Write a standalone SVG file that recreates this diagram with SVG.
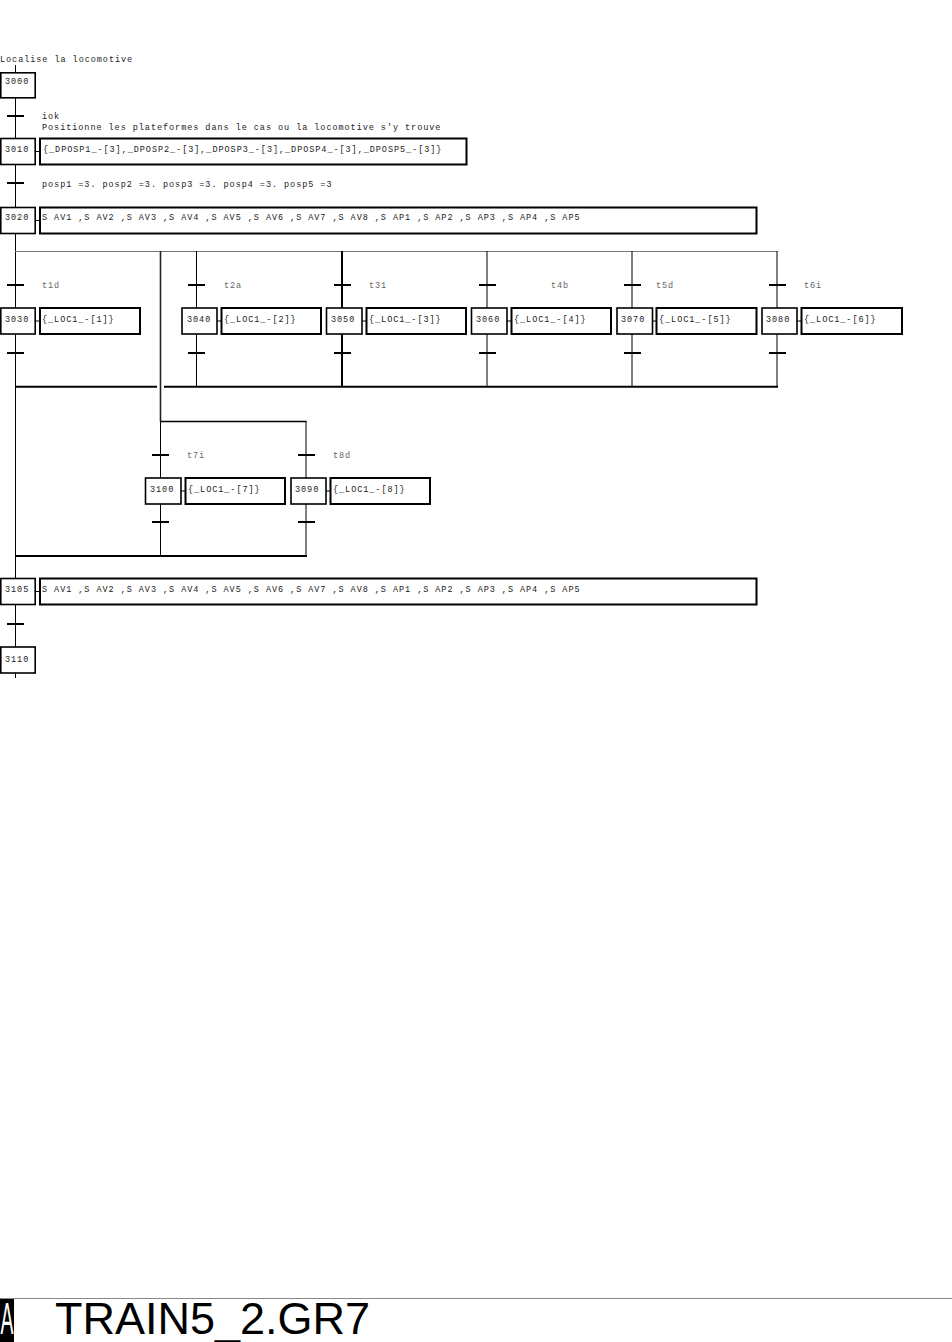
<svg xmlns="http://www.w3.org/2000/svg" width="952" height="1342" viewBox="0 0 952 1342">
<style>
.t{font-family:"Liberation Mono",monospace;font-size:8.5px;letter-spacing:0.95px;fill:#222}
.lbl{font-family:"Liberation Mono",monospace;font-size:8.5px;letter-spacing:0.95px;fill:#666}
.st{fill:#fff;stroke:#000;stroke-width:1.6}
.ac{fill:#fff;stroke:#000;stroke-width:2}
.ln{stroke:#000;stroke-width:1;fill:none}
.lnb{stroke:#000;stroke-width:2;fill:none}
.tr{stroke:#000;stroke-width:2}
</style>
<rect width="952" height="1342" fill="#fff"/>
<g id="connectors">
<path class="ln" d="M15.5 65V73M15.5 98V138M15.5 164V207M15.5 233V308M15.5 334V578M15.5 605V647M15.5 673V678"/>
<path d="M15 251.5H777.5" stroke="#777" stroke-width="1" fill="none"/>
<path d="M160.5 251V421.5" stroke="#222" stroke-width="1.6" fill="none"/>
<path class="ln" d="M196.5 251V308M196.5 334V387M487 251V308M487 334V387M632 251V308M632 334V387M777 251V308M777 334V387"/>
<path class="lnb" d="M342 251V308M342 334V387"/>
<path class="lnb" d="M15 386.7H157M164 386.7H778"/>
<path d="M160 421.5H306.5" stroke="#000" stroke-width="1.6" fill="none"/>
<path class="ln" d="M160.5 421V478M160.5 504V556M306 421V478M306 504V556"/>
<path class="lnb" d="M15 556H307"/>
<path class="tr" d="M7 116H24M7 183H24M7 285H24M188 285H205M334 285H351M479 285H496M624 285H641M769 285H786M7 353H24M188 353H205M334 353H351M479 353H496M624 353H641M769 353H786M152 455H169M298 455H315M152 522H169M298 522H315M7 624H24"/>
<path class="ln" d="M35 151.5H40M35 220.5H40M35 321H40M217 321H221M362 321H366M507 321H511M652 321H656M797 321H801M181 491H185M326 491H330M35 591.5H40"/>
</g>
<text class="t" x="0" y="62">Localise la locomotive</text>
<text class="t" x="42" y="119">iok</text>
<text class="t" x="42" y="130">Positionne les plateformes dans le cas ou la locomotive s'y trouve</text>
<text class="t" x="42" y="187">posp1 =3. posp2 =3. posp3 =3. posp4 =3. posp5 =3</text>
<text class="lbl" x="42" y="288">t1d</text>
<text class="lbl" x="224" y="288">t2a</text>
<text class="lbl" x="369" y="288">t31</text>
<text class="lbl" x="551" y="288">t4b</text>
<text class="lbl" x="656" y="288">t5d</text>
<text class="lbl" x="804" y="288">t6i</text>
<text class="lbl" x="187" y="458">t7i</text>
<text class="lbl" x="333" y="458">t8d</text>
<g id="s3000"><rect class="st" x="0.8" y="72.8" width="34.4" height="25"/><text class="t" x="5" y="84">3000</text></g>
<g id="s3010"><rect class="st" x="0.8" y="138.5" width="34.4" height="26"/><text class="t" x="5" y="152">3010</text>
<rect class="ac" x="40" y="138.5" width="426.5" height="26"/><text class="t" x="43" y="152">{_DPOSP1_-[3],_DPOSP2_-[3],_DPOSP3_-[3],_DPOSP4_-[3],_DPOSP5_-[3]}</text></g>
<g id="s3020"><rect class="st" x="0.8" y="207.5" width="34.4" height="26"/><text class="t" x="5" y="220">3020</text>
<rect class="ac" x="40" y="207.5" width="716.5" height="26"/><text class="t" x="42" y="220">S AV1 ,S AV2 ,S AV3 ,S AV4 ,S AV5 ,S AV6 ,S AV7 ,S AV8 ,S AP1 ,S AP2 ,S AP3 ,S AP4 ,S AP5</text></g>
<g id="s3030"><rect class="st" x="0.8" y="308" width="34.4" height="26"/><text class="t" x="5" y="322">3030</text>
<rect class="ac" x="40" y="308" width="100" height="26"/><text class="t" x="42" y="322">{_LOC1_-[1]}</text></g>
<g id="s3040"><rect class="st" x="182" y="308" width="35" height="26"/><text class="t" x="187" y="322">3040</text>
<rect class="ac" x="221.5" y="308" width="99.5" height="26"/><text class="t" x="224" y="322">{_LOC1_-[2]}</text></g>
<g id="s3050"><rect class="st" x="326.5" y="308" width="35.5" height="26"/><text class="t" x="331" y="322">3050</text>
<rect class="ac" x="366.5" y="308" width="99.5" height="26"/><text class="t" x="369" y="322">{_LOC1_-[3]}</text></g>
<g id="s3060"><rect class="st" x="471.5" y="308" width="35.5" height="26"/><text class="t" x="476" y="322">3060</text>
<rect class="ac" x="511.5" y="308" width="99.5" height="26"/><text class="t" x="514" y="322">{_LOC1_-[4]}</text></g>
<g id="s3070"><rect class="st" x="617" y="308" width="35.5" height="26"/><text class="t" x="621" y="322">3070</text>
<rect class="ac" x="656.5" y="308" width="100" height="26"/><text class="t" x="659" y="322">{_LOC1_-[5]}</text></g>
<g id="s3080"><rect class="st" x="762" y="308" width="35" height="26"/><text class="t" x="766" y="322">3080</text>
<rect class="ac" x="801.5" y="308" width="100.5" height="26"/><text class="t" x="804" y="322">{_LOC1_-[6]}</text></g>
<g id="s3100"><rect class="st" x="145.5" y="478" width="35.5" height="26"/><text class="t" x="150" y="492">3100</text>
<rect class="ac" x="185.5" y="478" width="99.5" height="26"/><text class="t" x="188" y="492">{_LOC1_-[7]}</text></g>
<g id="s3090"><rect class="st" x="291" y="478" width="35" height="26"/><text class="t" x="295" y="492">3090</text>
<rect class="ac" x="330.5" y="478" width="99.5" height="26"/><text class="t" x="333" y="492">{_LOC1_-[8]}</text></g>
<g id="s3105"><rect class="st" x="0.8" y="578.5" width="34.4" height="26"/><text class="t" x="5" y="592">3105</text>
<rect class="ac" x="40" y="578.5" width="716.5" height="26"/><text class="t" x="42" y="592">S AV1 ,S AV2 ,S AV3 ,S AV4 ,S AV5 ,S AV6 ,S AV7 ,S AV8 ,S AP1 ,S AP2 ,S AP3 ,S AP4 ,S AP5</text></g>
<g id="s3110"><rect class="st" x="0.8" y="647" width="34.4" height="26"/><text class="t" x="5" y="662">3110</text></g>
<g id="title">
<path d="M0 1298.5H952" stroke="#888" stroke-width="1"/>
<rect x="0" y="1299" width="14" height="43" fill="#000"/>
<text x="0.5" y="1334" font-family="Liberation Sans,Arial,sans-serif" font-size="44" fill="#fff" textLength="13" lengthAdjust="spacingAndGlyphs">A</text>
<text x="55" y="1334" font-family="Liberation Sans,Arial,sans-serif" font-size="44" fill="#000" textLength="315" lengthAdjust="spacingAndGlyphs">TRAIN5_2.GR7</text>
</g>
</svg>
